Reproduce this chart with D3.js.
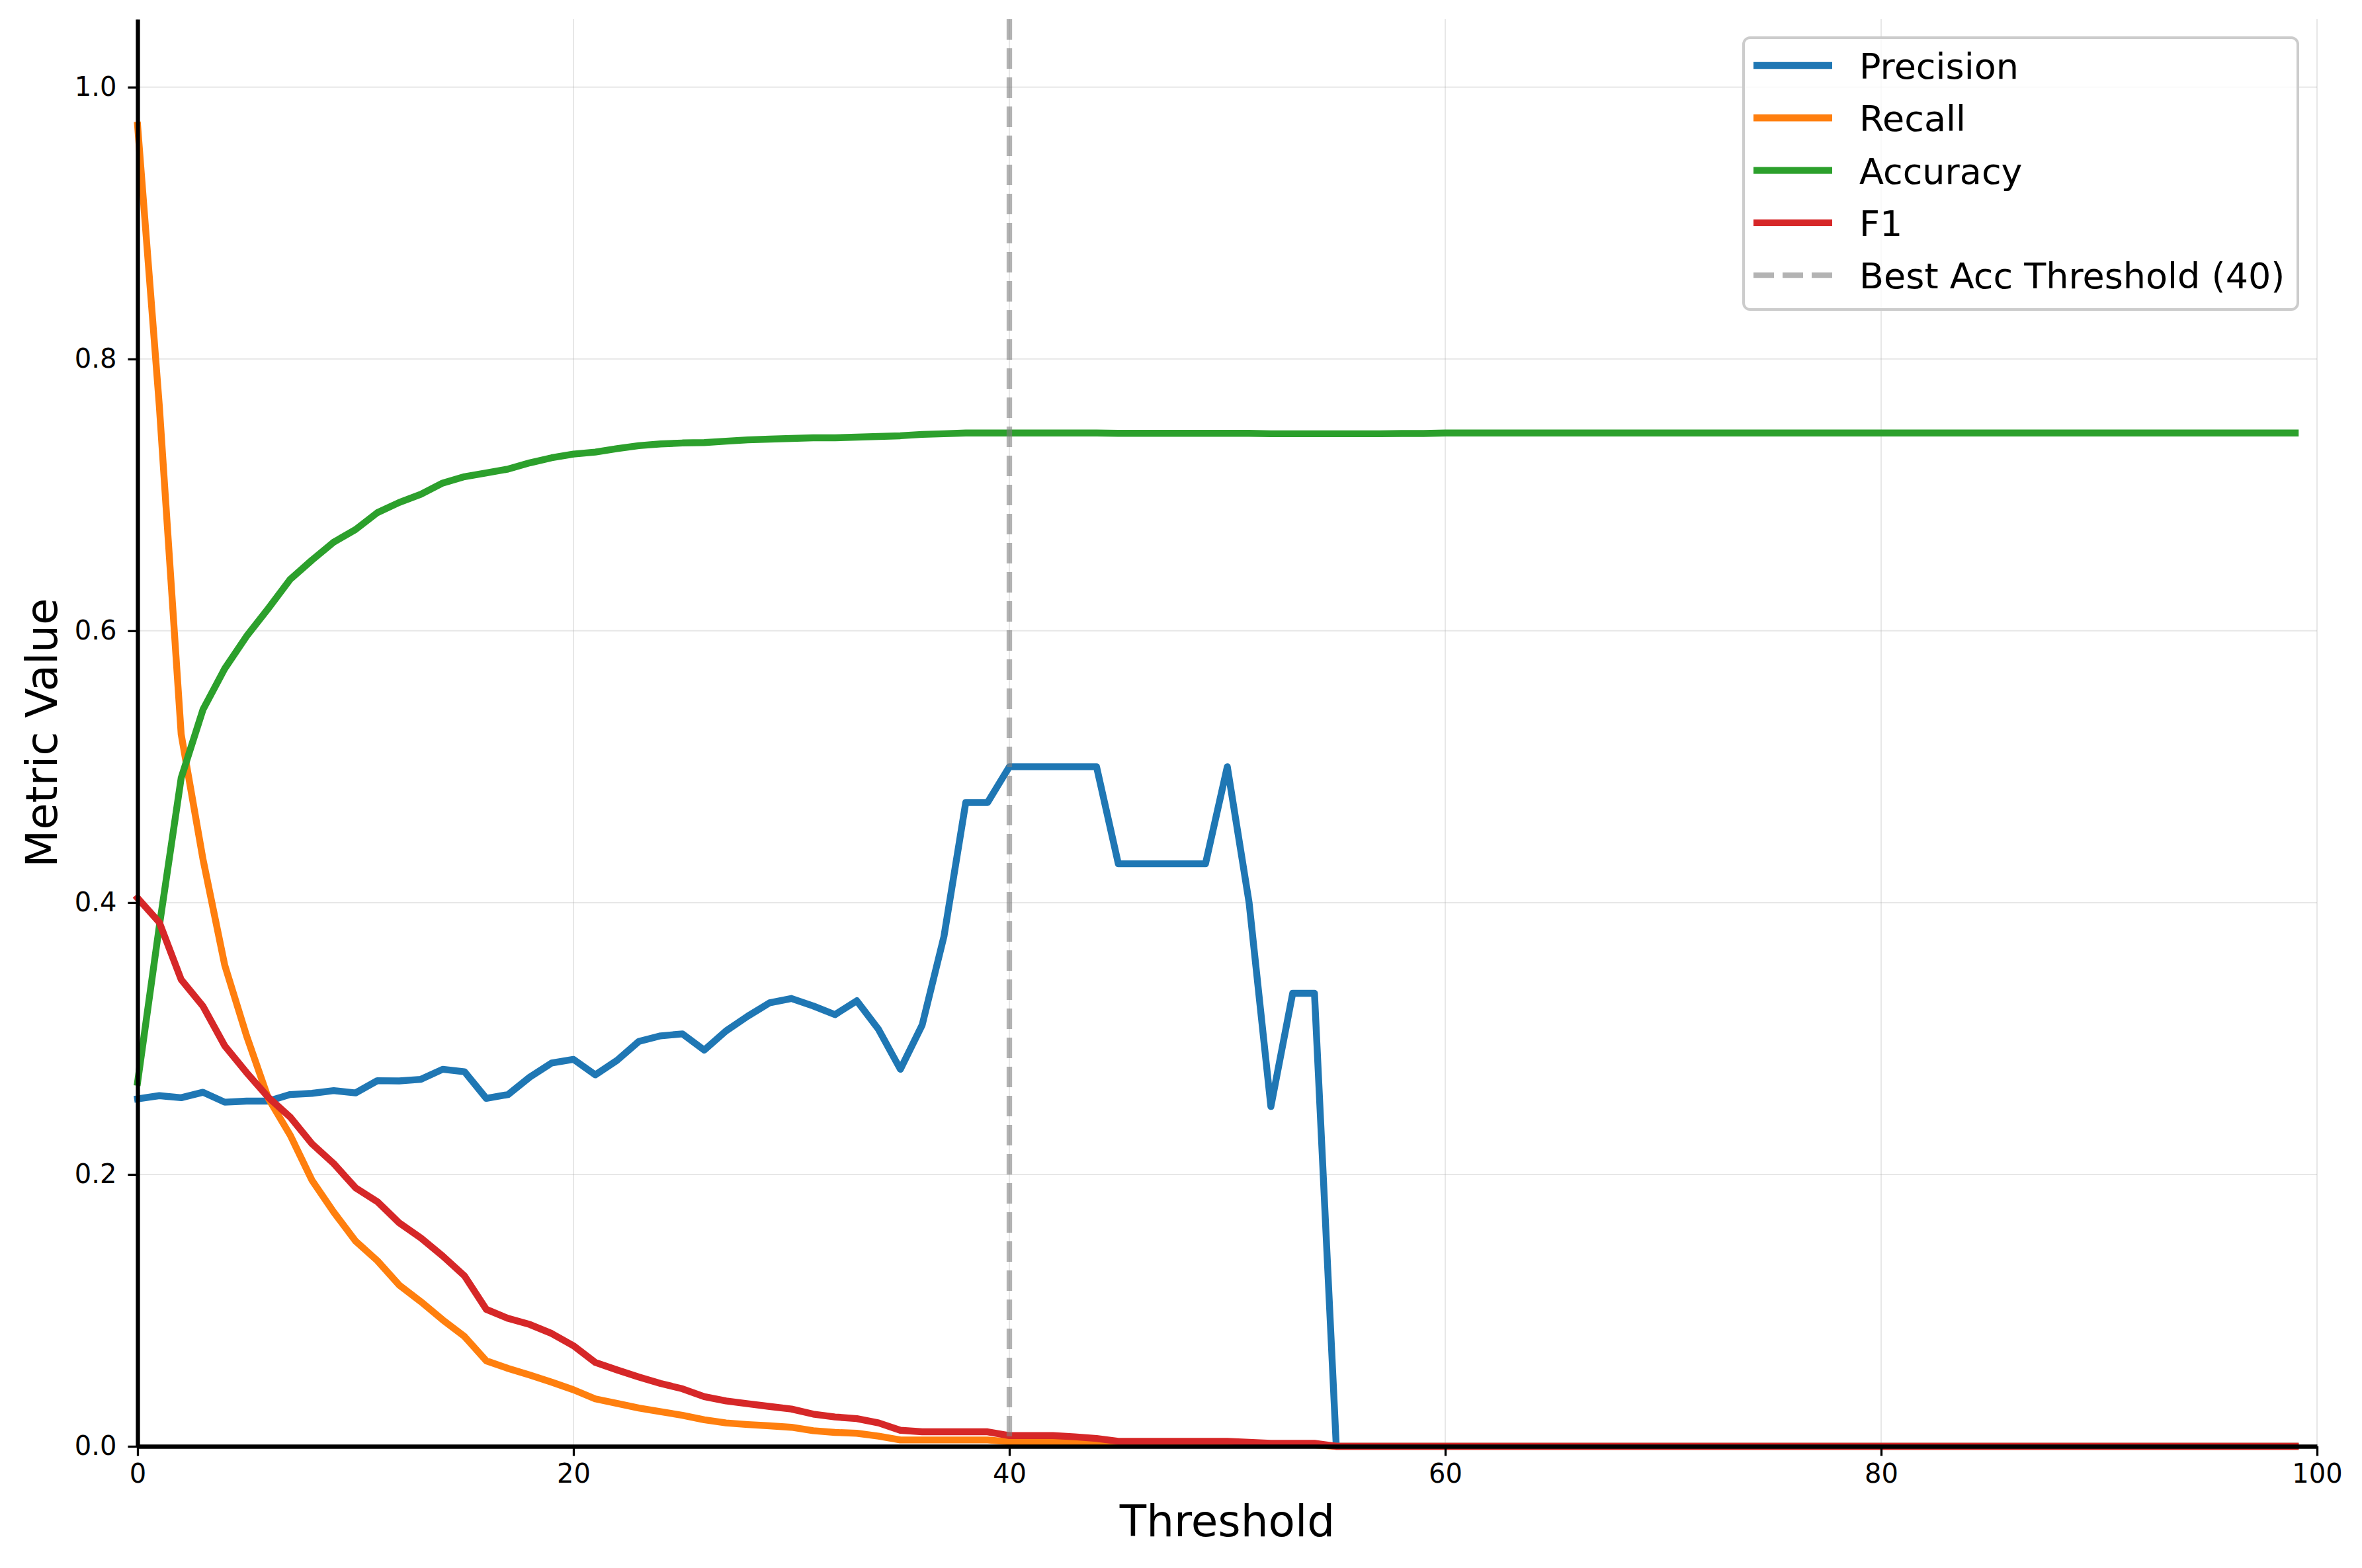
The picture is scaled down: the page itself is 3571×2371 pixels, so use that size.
<!DOCTYPE html>
<html>
<head>
<meta charset="utf-8">
<script src="https://cdn.jsdelivr.net/npm/d3@7"></script>
<style>
  html, body { margin: 0; padding: 0; background: #fff; }
  text { font-family: "DejaVu Sans", sans-serif; }
</style>
</head>
<body>
<div id="chart"></div>
<script>
// 阈值 0..99
var thresholds = d3.range(0, 100);

var precision = [
  0.2556, 0.258, 0.2565, 0.2605, 0.2532, 0.254, 0.254, 0.2588, 0.2597, 0.2617,
  0.26, 0.269, 0.2688, 0.27, 0.2774, 0.2756, 0.256, 0.2588, 0.2717, 0.282,
  0.2847, 0.2733, 0.284, 0.2979, 0.302, 0.3034, 0.2915, 0.3056, 0.3165, 0.3263,
  0.3295, 0.324, 0.3176, 0.3278, 0.3067, 0.2774, 0.31, 0.3752, 0.4737, 0.4737,
  0.5, 0.5, 0.5, 0.5, 0.5, 0.4286, 0.4286, 0.4286, 0.4286, 0.4286,
  0.5, 0.4, 0.25, 0.3333, 0.3333, 0, 0, 0, 0, 0,
  0, 0, 0, 0, 0, 0, 0, 0, 0, 0,
  0, 0, 0, 0, 0, 0, 0, 0, 0, 0,
  0, 0, 0, 0, 0, 0, 0, 0, 0, 0,
  0, 0, 0, 0, 0, 0, 0, 0, 0, 0
];
var recall = [
  0.972, 0.765, 0.524, 0.432, 0.354, 0.302, 0.256, 0.229, 0.1958, 0.1723,
  0.151, 0.1366, 0.1187, 0.1064, 0.093, 0.0808, 0.0629, 0.0573, 0.0524, 0.0472,
  0.0416, 0.0349, 0.0316, 0.0282, 0.0255, 0.0228, 0.0195, 0.0172, 0.016, 0.0151,
  0.014, 0.0115, 0.0102, 0.0096, 0.0075, 0.0047, 0.0047, 0.0047, 0.0047, 0.0047,
  0.0034, 0.0034, 0.0034, 0.0027, 0.002, 0.0019, 0.0019, 0.0019, 0.0019, 0.0019,
  0.0019, 0.0015, 0.0011, 0.0011, 0.0011, 0, 0, 0, 0, 0,
  0, 0, 0, 0, 0, 0, 0, 0, 0, 0,
  0, 0, 0, 0, 0, 0, 0, 0, 0, 0,
  0, 0, 0, 0, 0, 0, 0, 0, 0, 0,
  0, 0, 0, 0, 0, 0, 0, 0, 0, 0
];
var accuracy = [
  0.2678, 0.383, 0.4917, 0.542, 0.5722, 0.596, 0.6165, 0.6378, 0.652, 0.6652,
  0.6745, 0.6869, 0.6944, 0.7005, 0.7087, 0.7134, 0.7162, 0.719, 0.7236, 0.7273,
  0.73, 0.7315, 0.734, 0.7362, 0.7375, 0.7382, 0.7385, 0.7395, 0.7405, 0.741,
  0.7415, 0.742, 0.742, 0.7425, 0.743, 0.7435, 0.7445, 0.745, 0.7455, 0.7455,
  0.7455, 0.7455, 0.7455, 0.7455, 0.7455, 0.7453, 0.7453, 0.7453, 0.7453, 0.7453,
  0.7453, 0.7453, 0.745, 0.745, 0.745, 0.745, 0.745, 0.745, 0.7452, 0.7452,
  0.7455, 0.7455, 0.7455, 0.7455, 0.7455, 0.7455, 0.7455, 0.7455, 0.7455, 0.7455,
  0.7455, 0.7455, 0.7455, 0.7455, 0.7455, 0.7455, 0.7455, 0.7455, 0.7455, 0.7455,
  0.7455, 0.7455, 0.7455, 0.7455, 0.7455, 0.7455, 0.7455, 0.7455, 0.7455, 0.7455,
  0.7455, 0.7455, 0.7455, 0.7455, 0.7455, 0.7455, 0.7455, 0.7455, 0.7455, 0.7455
];
var f1 = [
  0.4034, 0.3854, 0.3434, 0.3238, 0.2946, 0.275, 0.2567, 0.2423, 0.2226, 0.208,
  0.1902, 0.18, 0.1645, 0.1533, 0.14, 0.1254, 0.1008, 0.0941, 0.0896, 0.083,
  0.074, 0.0617, 0.0562, 0.051, 0.0462, 0.0423, 0.0366, 0.0334, 0.0313, 0.0293,
  0.0274, 0.0237, 0.0216, 0.0204, 0.0172, 0.0118, 0.0107, 0.0107, 0.0107, 0.0107,
  0.0079, 0.0079, 0.0079, 0.007, 0.0058, 0.0037, 0.0037, 0.0037, 0.0037, 0.0037,
  0.0037, 0.003, 0.0022, 0.0022, 0.0022, 0, 0, 0, 0, 0,
  0, 0, 0, 0, 0, 0, 0, 0, 0, 0,
  0, 0, 0, 0, 0, 0, 0, 0, 0, 0,
  0, 0, 0, 0, 0, 0, 0, 0, 0, 0,
  0, 0, 0, 0, 0, 0, 0, 0, 0, 0
];

var seriesNames = ["Precision", "Recall", "Accuracy", "F1"];
var seriesColors = ["#1f77b4", "#ff7f0e", "#2ca02c", "#d62728"];
var bestThreshold = 40;
var bestLabel = "Best Acc Threshold (40)";
var xTicks = [0, 20, 40, 60, 80, 100];
var yTicks = [0, 0.2, 0.4, 0.6, 0.8, 1.0];

function draw() {
  var width = 3571;
  var height = 2371;
  var margin = { left: 208, right: 68, top: 29, bottom: 184 };
  var plotW = width - margin.left - margin.right;
  var plotH = height - margin.top - margin.bottom;

  var lineWidth = 10.4;
  var tickFont = 40;

  var svg = d3
    .select("#chart")
    .append("svg")
    .attr("width", width)
    .attr("height", height)
    .attr("viewBox", [0, 0, width, height]);

  svg.append("rect").attr("width", width).attr("height", height).attr("fill", "#fff");

  var g = svg.append("g").attr("transform", "translate(" + margin.left + "," + margin.top + ")");

  var x = d3.scaleLinear().domain([0, 100]).range([0, plotW]);
  var y = d3.scaleLinear().domain([0, 1.05]).range([plotH, 0]);

  // 网格
  var grid = g.append("g").attr("stroke", "#b0b0b0").attr("stroke-opacity", 0.3).attr("stroke-width", 2);
  grid
    .selectAll("line.gx")
    .data(xTicks)
    .enter()
    .append("line")
    .attr("x1", x)
    .attr("x2", x)
    .attr("y1", 0)
    .attr("y2", plotH);
  grid
    .selectAll("line.gy")
    .data(yTicks)
    .enter()
    .append("line")
    .attr("x1", 0)
    .attr("x2", plotW)
    .attr("y1", y)
    .attr("y2", y);

  var series = [precision, recall, accuracy, f1];
  var line = d3
    .line()
    .x(function (d, i) {
      return x(thresholds[i]);
    })
    .y(function (d) {
      return y(d);
    });

  series.forEach(function (values, k) {
    g.append("path")
      .datum(values)
      .attr("fill", "none")
      .attr("stroke", seriesColors[k])
      .attr("stroke-width", lineWidth)
      .attr("stroke-linejoin", "round")
      .attr("stroke-linecap", "square")
      .attr("d", line);
  });

  // 最佳阈值竖线
  g.append("line")
    .attr("x1", x(bestThreshold))
    .attr("x2", x(bestThreshold))
    .attr("y1", 0)
    .attr("y2", plotH)
    .attr("stroke", "gray")
    .attr("stroke-opacity", 0.6)
    .attr("stroke-width", 8.3)
    .attr("stroke-dasharray", "31 13");

  // 坐标轴
  var xAxis = g
    .append("g")
    .attr("transform", "translate(0," + plotH + ")")
    .call(d3.axisBottom(x).tickValues(xTicks).tickFormat(d3.format("d")).tickSize(14.6).tickSizeOuter(0).tickPadding(12));
  var yAxis = g
    .append("g")
    .call(d3.axisLeft(y).tickValues(yTicks).tickFormat(d3.format(".1f")).tickSize(14.6).tickSizeOuter(0).tickPadding(17));

  [xAxis, yAxis].forEach(function (ax) {
    ax.select(".domain").attr("stroke", "#000").attr("stroke-width", 6.3);
    ax.selectAll(".tick line").attr("stroke", "#000").attr("stroke-width", 3.3);
    ax.selectAll(".tick text")
      .attr("fill", "#000")
      .style("font-family", '"DejaVu Sans", sans-serif')
      .style("font-size", tickFont + "px");
  });

  // 轴标题
  svg
    .append("text")
    .attr("x", margin.left + plotW / 2)
    .attr("y", 2323)
    .attr("text-anchor", "middle")
    .style("font-size", "66px")
    .attr("fill", "#000")
    .text("Threshold");

  svg
    .append("text")
    .attr("transform", "translate(86," + (margin.top + plotH / 2) + ")rotate(-90)")
    .attr("text-anchor", "middle")
    .style("font-size", "66px")
    .attr("fill", "#000")
    .text("Metric Value");

  // 图例
  var legend = svg.append("g").attr("transform", "translate(2636,57)");
  legend
    .append("rect")
    .attr("width", 838)
    .attr("height", 411)
    .attr("rx", 10)
    .attr("ry", 10)
    .attr("fill", "#fff")
    .attr("fill-opacity", 0.8)
    .attr("stroke", "#cccccc")
    .attr("stroke-width", 4);

  var items = seriesNames.map(function (name, k) {
    return { name: name, color: seriesColors[k], dashed: false };
  });
  items.push({ name: bestLabel, color: "gray", dashed: true });

  var row = legend
    .selectAll("g.item")
    .data(items)
    .enter()
    .append("g")
    .attr("transform", function (d, i) {
      return "translate(0," + (42 + i * 79.3) + ")";
    });

  row
    .append("line")
    .attr("x1", 15)
    .attr("x2", 134)
    .attr("stroke", function (d) {
      return d.color;
    })
    .attr("stroke-opacity", function (d) {
      return d.dashed ? 0.6 : 1;
    })
    .attr("stroke-width", function (d) {
      return d.dashed ? 8.3 : lineWidth;
    })
    .attr("stroke-dasharray", function (d) {
      return d.dashed ? "31 13" : null;
    })
    .attr("stroke-linecap", "butt");

  row
    .append("text")
    .attr("x", 175)
    .attr("y", 20)
    .style("font-size", "54px")
    .attr("fill", "#000")
    .text(function (d) {
      return d.name;
    });
}

draw();
</script>
</body>
</html>
